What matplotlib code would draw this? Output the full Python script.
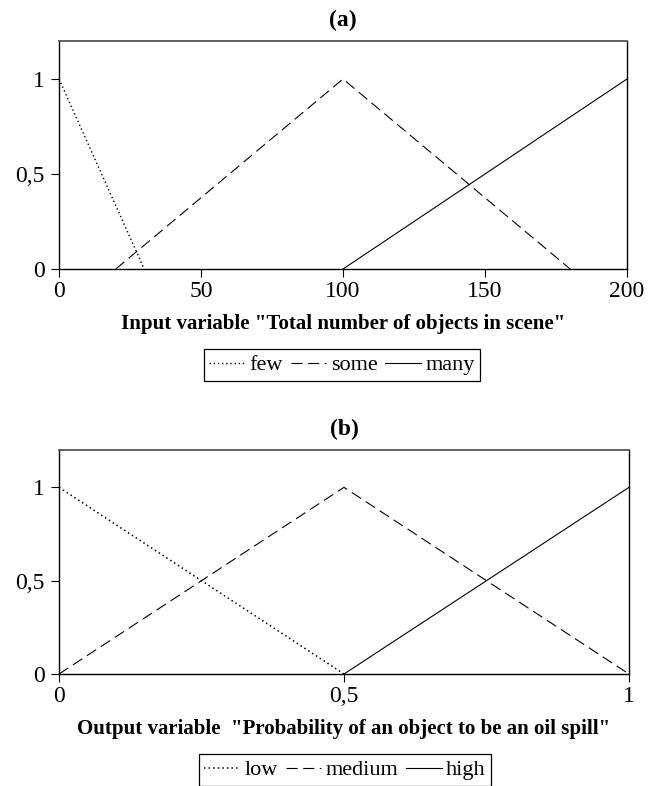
import matplotlib
matplotlib.use("Agg")
import matplotlib.pyplot as plt

plt.rcParams['font.family'] = ['Liberation Serif', 'DejaVu Serif']

# panel (a): input variable
in_few_x = [0, 30]
in_few_y = [1, 0]
in_some_x = [20, 100, 180]
in_some_y = [0, 1, 0]
in_many_x = [100, 200]
in_many_y = [0, 1]
in_ticks = [0, 50, 100, 150, 200]
in_labels = ["0", "50", "100", "150", "200"]

# panel (b): output variable
out_low_x = [0, 0.5]
out_low_y = [1, 0]
out_med_x = [0, 0.5, 1]
out_med_y = [0, 1, 0]
out_high_x = [0.5, 1]
out_high_y = [0, 1]
out_ticks = [0, 0.5, 1]
out_labels = ["0", "0,5", "1"]

y_ticks = [0, 0.5, 1]
y_labels = ["0", "0,5", "1"]

W, H = 653, 786
fig = plt.figure(figsize=(W / 100, H / 100), dpi=100)


def rect(x0, y0, x1, y1):
    return [x0 / W, 1 - y1 / H, (x1 - x0) / W, (y1 - y0) / H]


def style(ax, xt, xl, xmax, title, xlabel):
    ax.set_xlim(0, xmax)
    ax.set_ylim(0, 1.2)
    ax.set_xticks(xt)
    ax.set_xticklabels(xl)
    ax.set_yticks(y_ticks)
    ax.set_yticklabels(y_labels)
    ax.tick_params(direction='out', length=5.5, width=0.8, labelsize=17)
    ax.tick_params(axis='y', pad=5)
    ax.tick_params(axis='x', pad=3)
    for s in ax.spines.values():
        s.set_linewidth(1.0)
    ax.spines['top'].set_color('#555555')
    ax.spines['top'].set_linewidth(1.3)
    ax.set_title(title, fontsize=17, fontweight='bold', pad=11)
    ax.set_xlabel(xlabel, fontsize=15, fontweight='bold', labelpad=9)


def legend(ax, cx, cy):
    leg = ax.legend(loc='center', bbox_to_anchor=(cx / W, 1 - cy / H), bbox_transform=fig.transFigure,
                    ncol=3, fontsize=16, frameon=True, fancybox=False, edgecolor='black',
                    handlelength=1.6, handletextpad=0.2, columnspacing=0.35, borderpad=0.25,
                    borderaxespad=0, framealpha=1)
    leg.get_frame().set_linewidth(0.9)


ax1 = fig.add_axes(rect(59, 41, 627, 269))
ax1.plot(in_few_x, in_few_y, color='black', lw=1.0, ls=(0, (1, 2)), label='few')
ax1.plot(in_some_x, in_some_y, color='black', lw=0.8, ls=(0, (10, 5)), label='some')
ax1.plot(in_many_x, in_many_y, color='black', lw=0.8, ls='-', label='many')
style(ax1, in_ticks, in_labels, 200, "(a)", 'Input variable "Total number of objects in scene"')
legend(ax1, 342, 365)

ax2 = fig.add_axes(rect(59, 450, 629, 674))
ax2.plot(out_low_x, out_low_y, color='black', lw=1.1, ls=(0, (1, 2)), label='low')
ax2.plot(out_med_x, out_med_y, color='black', lw=0.8, ls=(0, (10, 5)), label='medium')
ax2.plot(out_high_x, out_high_y, color='black', lw=0.8, ls='-', label='high')
style(ax2, out_ticks, out_labels, 1, "(b)", 'Output variable  "Probability of an object to be an oil spill"')
legend(ax2, 345, 770)

fig.savefig("out.png", dpi=100)
